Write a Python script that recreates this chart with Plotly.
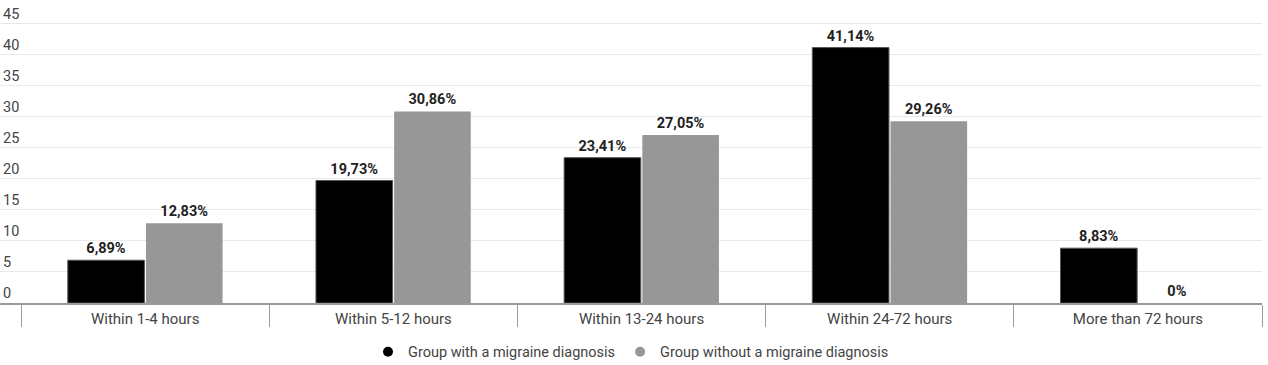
import plotly.graph_objects as go

categories = ["Within 1-4 hours", "Within 5-12 hours", "Within 13-24 hours",
              "Within 24-72 hours", "More than 72 hours"]
with_migraine = [6.89, 19.73, 23.41, 41.14, 8.83]
without_migraine = [12.83, 30.86, 27.05, 29.26, 0]
with_labels = ["6,89%", "19,73%", "23,41%", "41,14%", "8,83%"]
without_labels = ["12,83%", "30,86%", "27,05%", "29,26%", "0%"]
y_ticks = [0, 5, 10, 15, 20, 25, 30, 35, 40, 45]
series_names = ["Group with a migraine diagnosis", "Group without a migraine diagnosis"]
series_colors = ["#000000", "#979797"]

FONT = "Roboto"
TXT = "#444444"

fig = go.Figure()
fig.add_trace(go.Bar(
    x=categories, y=with_migraine, name=series_names[0], showlegend=False,
    marker=dict(color=series_colors[0], line=dict(color="#555555", width=1)),
    text=with_labels, textposition="outside", cliponaxis=False,
    textfont=dict(family=FONT, size=14.5, color="#222222", weight="bold"),
))
fig.add_trace(go.Bar(
    x=categories, y=without_migraine, name=series_names[1], showlegend=False,
    marker=dict(color=series_colors[1], line=dict(width=0)),
    text=without_labels, textposition="outside", cliponaxis=False,
    textfont=dict(family=FONT, size=14.5, color="#222222", weight="bold"),
))
for name, color in zip(series_names, series_colors):
    fig.add_trace(go.Scatter(
        x=[None], y=[None], mode="markers", name=name,
        marker=dict(symbol="circle", size=10, color=color),
    ))

fig.update_layout(
    width=1268, height=365,
    margin=dict(l=0, r=6, t=5, b=62, autoexpand=False),
    paper_bgcolor="white", plot_bgcolor="white",
    barmode="group", bargap=0.37, bargroupgap=0.02,
    font=dict(family=FONT, size=14, color=TXT),
    showlegend=True,
    legend=dict(orientation="h", x=0.5, xanchor="center",
                yref="container", y=0.036, yanchor="middle",
                font=dict(family=FONT, size=14.5, color=TXT), itemwidth=30,
                tracegroupgap=0),
)
fig.update_xaxes(
    range=[-0.585, 4.5], type="category",
    showline=True, linecolor="#999999", linewidth=1.5,
    ticks="outside", tickson="boundaries", ticklen=22, tickcolor="#999999", tickwidth=1.2,
    ticklabelstandoff=1,
    tickfont=dict(family=FONT, size=15, color=TXT),
    showgrid=False,
)
fig.update_yaxes(
    range=[0, 48], tickvals=y_ticks,
    ticklabelposition="inside top",
    showgrid=True, gridcolor="#e8e8e8", gridwidth=1,
    zeroline=False,
    tickfont=dict(family=FONT, size=14.5, color=TXT),
)

fig.write_html("out.html")
